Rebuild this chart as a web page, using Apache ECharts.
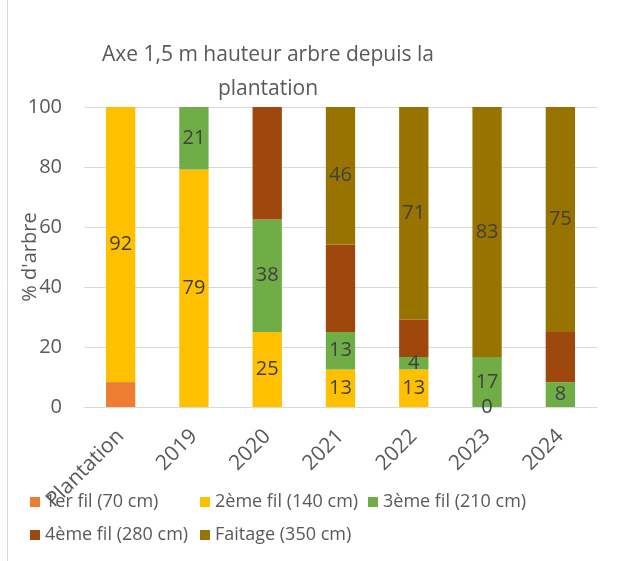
<!DOCTYPE html>
<html><head><meta charset="utf-8">
<script src="https://cdn.jsdelivr.net/npm/echarts@6/dist/echarts.min.js"></script>
<style>html,body{margin:0;padding:0;background:#fff}#c{width:625px;height:561px}</style>
</head><body><div id="c"></div>
<script>
const categories = ['Plantation','2019','2020','2021','2022','2023','2024'];
const seriesNames = ['1er fil (70 cm)','2ème fil (140 cm)','3ème fil (210 cm)','4ème fil (280 cm)','Faitage (350 cm)'];
const fil1 = [8.3, null, null, null, null, null, null];
const fil2 = [91.7, 79.2, 25, 12.5, 12.5, 0, null];
const fil3 = [null, 20.8, 37.5, 12.5, 4.2, 16.7, 8.3];
const fil4 = [null, null, 37.5, 29.2, 12.5, null, 16.7];
const faitage = [null, null, null, 45.8, 70.8, 83.3, 75];
const yMin = 0, yMax = 100, yStep = 20;

const FONT = 'Open Sans';
const colors = ['#ED7D31','#FFC000','#70AD47','#9E480E','#997300'];
const showLabel = [false, true, true, false, true];
const dataSets = [fil1, fil2, fil3, fil4, faitage];

const series = dataSets.map((d, i) => ({
  name: seriesNames[i],
  type: 'bar',
  stack: 'total',
  data: d,
  barCategoryGap: '60%',
  itemStyle: { color: colors[i] },
  label: {
    show: showLabel[i],
    position: 'inside',
    formatter: p => String(Math.round(p.value)),
    fontFamily: FONT, fontSize: 20, color: '#404040'
  }
}));

const legendPos = [[25,488],[195,488],[363,488],[25,521],[195,521]];
const legends = seriesNames.map((n, i) => ({
  data: [n], left: legendPos[i][0], top: legendPos[i][1],
  itemWidth: 10, itemHeight: 10, itemGap: 0, icon: 'rect',
  textStyle: { fontFamily: FONT, fontSize: 18, color: '#595959' },
  selectedMode: false
}));

const chart = echarts.init(document.getElementById('c'));
chart.setOption({
  animation: false,
  color: colors,
  title: {
    text: 'Axe 1,5 m hauteur arbre depuis la\nplantation',
    left: 263, top: 33, textAlign: 'center',
    textStyle: { fontFamily: FONT, fontSize: 21, fontWeight: 'normal', color: '#595959', lineHeight: 34 }
  },
  legend: legends,
  grid: { left: 84, right: 28, top: 107, bottom: 154, outerBoundsMode: 'none', containLabel: false },
  xAxis: {
    type: 'category', data: categories,
    axisLine: { lineStyle: { color: '#D9D9D9', width: 1 } },
    axisTick: { show: false },
    axisLabel: { rotate: 45, interval: 0, fontFamily: FONT, fontSize: 21, color: '#595959', margin: 26 }
  },
  yAxis: {
    type: 'value', min: yMin, max: yMax, interval: yStep,
    name: "% d'arbre", nameLocation: 'middle', nameGap: 44, nameMoveOverlap: false,
    nameTextStyle: { fontFamily: FONT, fontSize: 20, color: '#595959' },
    axisLine: { show: false }, axisTick: { show: false },
    axisLabel: { fontFamily: FONT, fontSize: 20, color: '#595959', margin: 22 },
    splitLine: { lineStyle: { color: '#D9D9D9', width: 1 } }
  },
  graphic: [{
    type: 'line', shape: { x1: 7.5, y1: 0, x2: 7.5, y2: 561 },
    style: { stroke: '#D9D9D9', lineWidth: 1 }
  }],
  series: series
});
</script></body></html>
